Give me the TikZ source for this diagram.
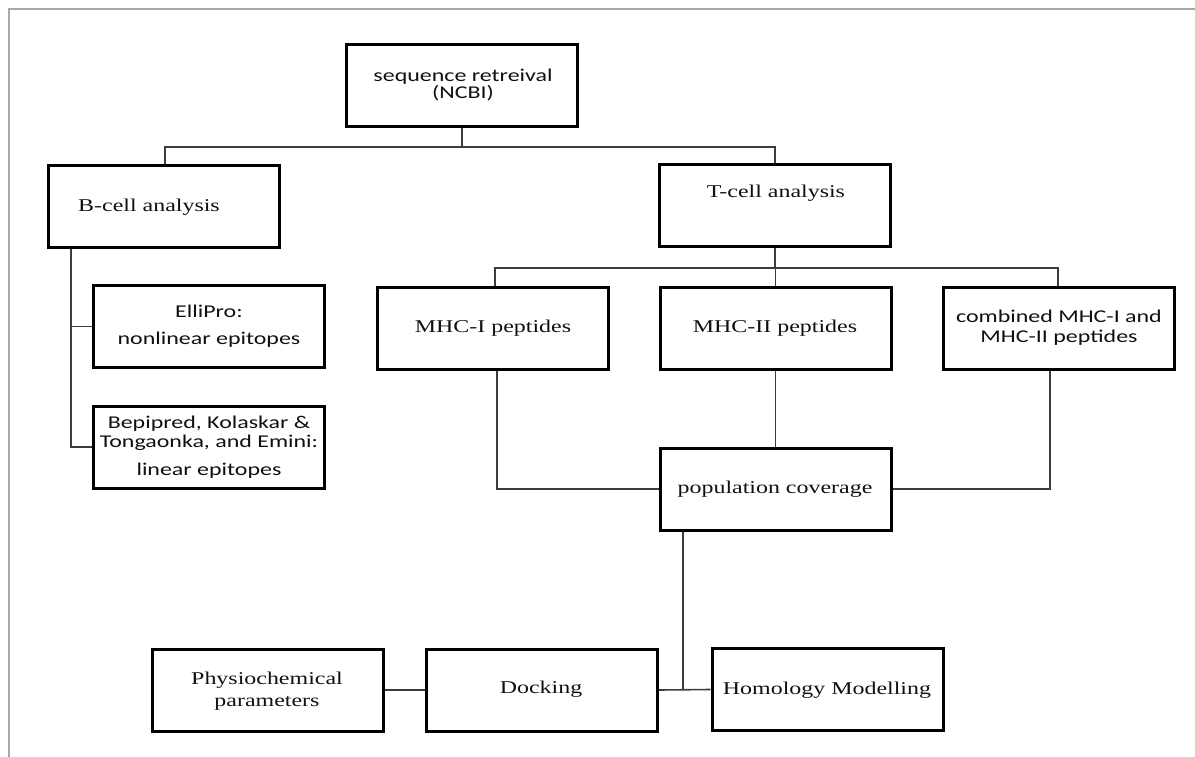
\documentclass[tikz,border=0pt]{standalone}
\usepackage{fontspec}
\newfontfamily\tnrfont[FakeStretch=1.33]{Liberation Serif}
\newfontfamily\calfont[FakeStretch=1.33]{Carlito}
\definecolor{framegray}{HTML}{A8A8A8}
\definecolor{conncol}{HTML}{3C3C3C}
\definecolor{txtcol}{HTML}{101010}
\tikzset{
  box/.style={draw=black, line width=3pt, inner sep=0pt, minimum width=231pt, minimum height=82pt},
  conn/.style={draw=conncol, line width=1.6pt},
  serif/.style={text=txtcol, inner sep=0pt, align=center, font={\tnrfont\fontsize{18}{22}\selectfont}},
  sans/.style={text=txtcol, inner sep=0pt, align=center, font={\calfont\fontsize{18}{20}\selectfont}}
}
\begin{document}
\begin{tikzpicture}[x=1pt,y=-1pt]
\useasboundingbox (0,0) rectangle (1195,757);
% frame
\draw[framegray, line width=2pt] (9,757) -- (9,9) -- (1195,9);
% boxes
\node[box] (seq)  at (462,85.5) {};
\node[box] (bcell) at (163.5,206.5) {};
\node[box] (tcell) at (775,205.5) {};
\node[box] (elli) at (209,326.5) {};
\node[box] (bepi) at (209,447) {};
\node[box] (mhc1) at (493,328) {};
\node[box] (mhc2) at (775.5,328) {};
\node[box] (comb) at (1059,328.5) {};
\node[box] (pop) at (775.5,489) {};
\node[box] (phys) at (267.5,690) {};
\node[box] (dock) at (542,690) {};
\node[box] (homo) at (827.5,689.5) {};
% texts
\node[sans, font={\calfont\fontsize{18}{15}\selectfont}] (seq-t) at (463,85) {sequence retreival\\(NCBI)};
\node[serif, anchor=west] (bcell-t) at (78,207) {B-cell analysis};
\node[serif] (tcell-t) at (776,193) {T-cell analysis};
\node[sans, font={\calfont\fontsize{18}{27}\selectfont}] (elli-t) at (209,326.5) {ElliPro:\\nonlinear epitopes};
\node[sans, font={\calfont\fontsize{18}{19}\selectfont}] (bepi-t) at (209,447.5) {Bepipred, Kolaskar \&\\Tongaonka, and Emini:\\[9pt]linear epitopes};
\node[serif] (mhc1-t) at (493,328) {MHC-I peptides};
\node[serif] (mhc2-t) at (775,328) {MHC-II peptides};
\node[sans] (comb-t) at (1059,328) {combined MHC-I and\\MHC-II peptides};
\node[serif] (pop-t) at (775,489) {population coverage};
\node[serif] (phys-t) at (267,691) {Physiochemical\\parameters};
\node[serif] (dock-t) at (541,689) {Docking};
\node[serif] (homo-t) at (827,690) {Homology Modelling};
% junction coordinates
\coordinate (bj) at (165,147);
\coordinate (tj) at (775,147);
\coordinate (bv) at (71,0);
\coordinate (m1) at (495,268);
\coordinate (m3) at (1058,268);
\coordinate (p1) at (497,0);
\coordinate (p3) at (1050,0);
\coordinate (pd) at (683,0);
% connectors
\draw[conn] (seq.south) -- (seq.south |- bj);
\draw[conn] (bcell.north -| bj) -- (bj) -- (tj) -- (tcell.north -| tj);
\draw[conn] (bcell.south -| bv) |- (bepi.west);
\draw[conn] (bcell.south -| bv) |- (elli.west);
\draw[conn] (tcell.south) -- (tcell.south |- m1);
\draw[conn] (mhc1.north -| m1) |- (m3) -- (comb.north -| m3);
\draw[conn] (mhc2.north) -- (mhc2.north |- m1);
\draw[conn] (mhc1.south -| p1) |- (pop.west);
\draw[conn] (mhc2.south) -- (pop.north);
\draw[conn] (comb.south -| p3) |- (pop.east);
\draw[conn] (pop.south -| pd) -- (dock.east -| pd);
\draw[conn] (phys.east) -- (dock.west);
\draw[conn] (dock.east) -- (homo.west);
\end{tikzpicture}
\end{document}
